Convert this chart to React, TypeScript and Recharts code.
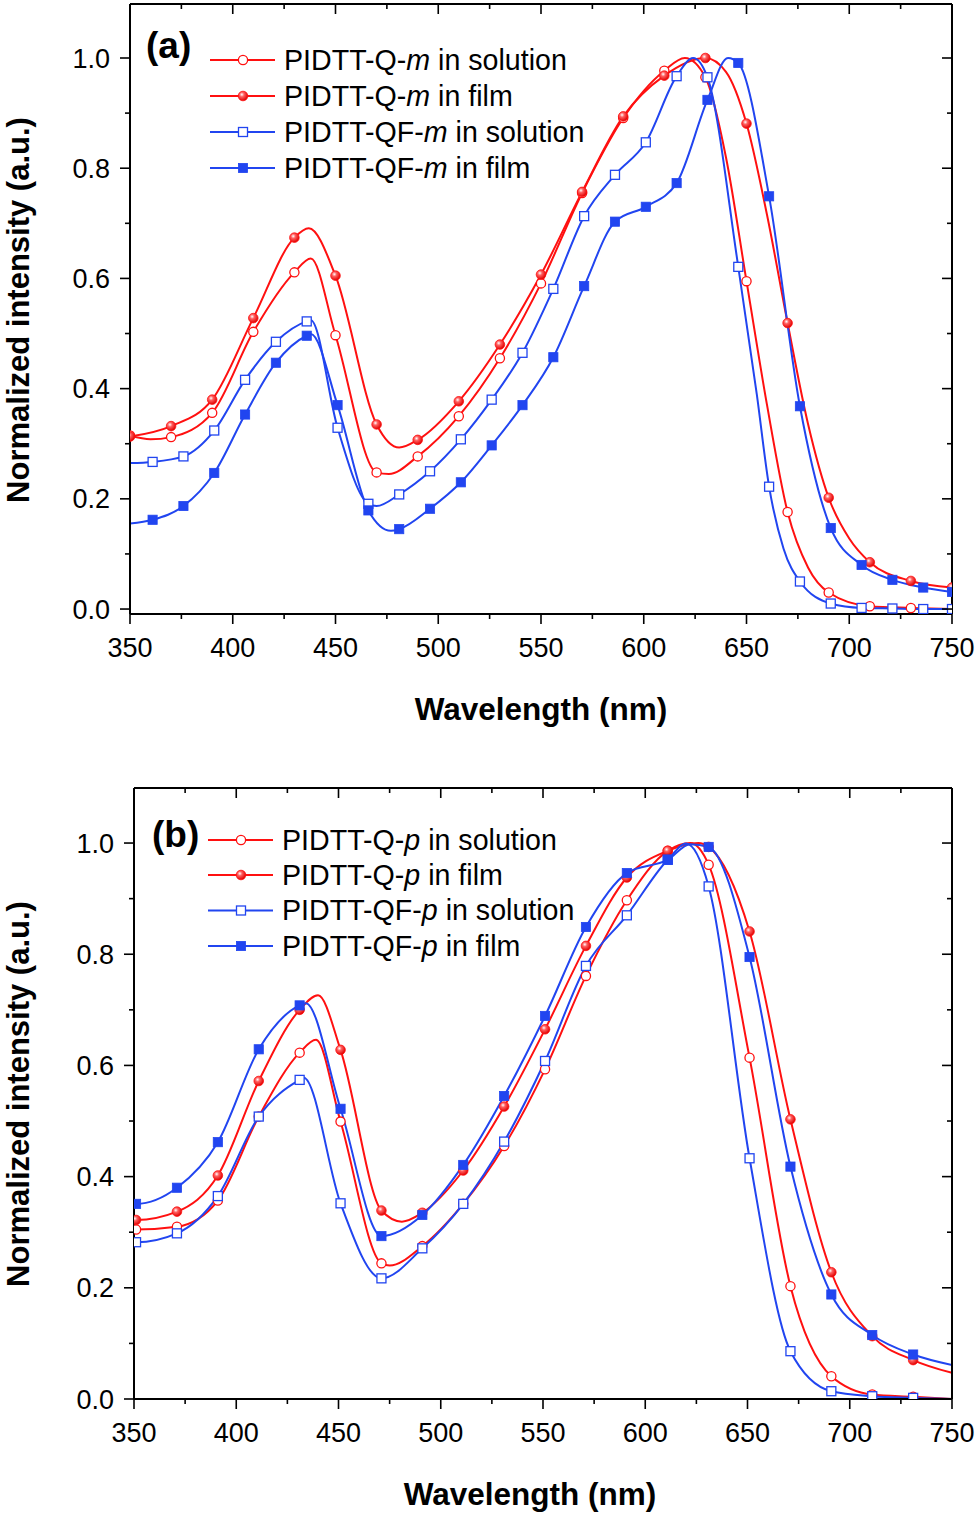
import React from 'react';
import { LineChart, Line, XAxis, YAxis } from 'recharts';

const RED = '#FF1010';
const BLUE = '#2145F0';
const FONT = '"Liberation Sans", Arial, Helvetica, sans-serif';

// ---------- Panel (a) ----------
const aCircleX = [350, 370, 390, 410, 430, 450, 470, 490, 510, 530, 550, 570, 590, 610, 630, 650, 670, 690, 710, 730, 750];
const aSquareX = [361, 376, 391, 406, 421, 436, 451, 466, 481, 496, 511, 526, 541, 556, 571, 586, 601, 616, 631, 646, 661, 676, 691, 706, 721, 736, 750];

const aQmSol = [0.315, 0.312, 0.356, 0.503, 0.611, 0.497, 0.248, 0.277, 0.350, 0.455, 0.591, 0.755, 0.891, 0.977, 0.965, 0.595, 0.176, 0.030, 0.005, 0.002, 0.0];
const aQmSolExX = [360, 438, 476, 620, 640, 660, 680];
const aQmSolExY = [0.308, 0.636, 0.245, 1.0, 0.82, 0.37, 0.075];

const aQmFilm = [0.313, 0.332, 0.380, 0.528, 0.674, 0.605, 0.335, 0.307, 0.377, 0.480, 0.607, 0.757, 0.894, 0.968, 1.0, 0.881, 0.519, 0.202, 0.085, 0.051, 0.039];
const aQmFilmExX = [437, 481, 640, 660, 680, 700];
const aQmFilmExY = [0.691, 0.293, 0.975, 0.715, 0.335, 0.128];

const aQfmSol = [0.267, 0.277, 0.324, 0.416, 0.485, 0.522, 0.329, 0.191, 0.208, 0.250, 0.308, 0.380, 0.465, 0.581, 0.713, 0.788, 0.847, 0.967, 0.965, 0.621, 0.222, 0.050, 0.010, 0.002, 0.001, 0.0, 0.0];
const aQfmSolExX = [350, 438, 470, 624, 655, 668];
const aQfmSolExY = [0.265, 0.524, 0.187, 1.0, 0.39, 0.11];

const aQfmFilm = [0.162, 0.187, 0.247, 0.353, 0.447, 0.496, 0.370, 0.179, 0.145, 0.182, 0.230, 0.297, 0.370, 0.457, 0.586, 0.703, 0.730, 0.773, 0.924, 0.991, 0.749, 0.368, 0.147, 0.080, 0.053, 0.039, 0.031];
const aQfmFilmExX = [350, 438, 477, 641];
const aQfmFilmExY = [0.155, 0.499, 0.142, 1.0];

// ---------- Panel (b) ----------
const bMarkX = [351, 371, 391, 411, 431, 451, 471, 491, 511, 531, 551, 571, 591, 611, 631, 651, 671, 691, 711, 731];

const bQpSol = [0.305, 0.310, 0.357, 0.508, 0.623, 0.499, 0.244, 0.275, 0.351, 0.455, 0.593, 0.761, 0.897, 0.986, 0.961, 0.614, 0.203, 0.041, 0.008, 0.004];
const bQpSolExX = [350, 439, 475, 622, 750];
const bQpSolExY = [0.305, 0.646, 0.240, 1.0, 0.0];

const bQpFilm = [0.322, 0.337, 0.402, 0.572, 0.700, 0.628, 0.339, 0.335, 0.411, 0.526, 0.665, 0.815, 0.938, 0.986, 0.993, 0.841, 0.503, 0.228, 0.113, 0.070];
const bQpFilmExX = [350, 440, 481, 626, 750];
const bQpFilmExY = [0.322, 0.726, 0.319, 1.0, 0.047];

const bQfpSol = [0.282, 0.298, 0.365, 0.508, 0.574, 0.352, 0.217, 0.271, 0.351, 0.463, 0.608, 0.779, 0.870, 0.970, 0.922, 0.433, 0.086, 0.014, 0.005, 0.002];
const bQfpSolExX = [350, 433, 620, 750];
const bQfpSolExY = [0.282, 0.578, 0.999, 0.0];

const bQfpFilm = [0.351, 0.380, 0.462, 0.629, 0.708, 0.522, 0.293, 0.331, 0.421, 0.545, 0.689, 0.849, 0.946, 0.970, 0.993, 0.795, 0.418, 0.188, 0.115, 0.080];
const bQfpFilmExX = [350, 434, 622, 750];
const bQfpFilmExY = [0.351, 0.712, 0.998, 0.061];

// ---------- Axes ----------
const xTicks = [350, 375, 400, 425, 450, 475, 500, 525, 550, 575, 600, 625, 650, 675, 700, 725, 750];
const yTicks = [0, 0.1, 0.2, 0.3, 0.4, 0.5, 0.6, 0.7, 0.8, 0.9, 1.0];

type Pt = { x: number; y: number; mark: boolean };
function build(mx: number[], my: number[], ex: number[], ey: number[]): Pt[] {
  const pts: Pt[] = [
    ...mx.map((x, i) => ({ x, y: my[i], mark: true })),
    ...ex.map((x, i) => ({ x, y: ey[i], mark: false })),
  ];
  return pts.sort((a, b) => a.x - b.x);
}

type MarkerKind = 'openCircle' | 'ballCircle' | 'openSquare' | 'fillSquare';

function Marker({ kind, cx, cy }: { kind: MarkerKind; cx: number; cy: number }) {
  if (kind === 'openCircle') return <circle cx={cx} cy={cy} r={4.6} fill="#fff" stroke={RED} strokeWidth={1.3} />;
  if (kind === 'ballCircle') return <circle cx={cx} cy={cy} r={4.8} fill="url(#ballGrad)" stroke={RED} strokeWidth={0.8} />;
  if (kind === 'openSquare') return <rect x={cx - 4.5} y={cy - 4.5} width={9} height={9} fill="#fff" stroke={BLUE} strokeWidth={1.3} />;
  return <rect x={cx - 4.6} y={cy - 4.6} width={9.2} height={9.2} fill={BLUE} stroke={BLUE} strokeWidth={0.8} />;
}

const dotFor = (kind: MarkerKind) => (props: any) => {
  const { cx, cy, payload, index } = props;
  if (!payload || !payload.mark || cx == null || cy == null) return <g key={`n-${index}`} />;
  return (
    <g key={`d-${index}`}>
      <Marker kind={kind} cx={cx} cy={cy} />
    </g>
  );
};

const BottomTick = (props: any) => {
  const { x, y, payload } = props;
  const v = payload.value;
  const major = v % 50 === 0;
  return (
    <g>
      <line x1={x} y1={y} x2={x} y2={y + (major ? 10 : 5)} stroke="#000" strokeWidth={1.6} />
      {major && (
        <text x={x} y={y + 43} textAnchor="middle" fontSize={27} fontFamily={FONT} fill="#000">
          {v}
        </text>
      )}
    </g>
  );
};
const TopTick = (props: any) => {
  const { x, y, payload } = props;
  const major = payload.value % 50 === 0;
  return <line x1={x} y1={y} x2={x} y2={y + (major ? 10 : 5)} stroke="#000" strokeWidth={1.6} />;
};
const LeftTick = (props: any) => {
  const { x, y, payload } = props;
  const v = payload.value;
  const major = Math.round(v * 10) % 2 === 0;
  return (
    <g>
      <line x1={x} y1={y} x2={x - (major ? 10 : 5)} y2={y} stroke="#000" strokeWidth={1.6} />
      {major && (
        <text x={x - 20} y={y + 9.5} textAnchor="end" fontSize={27} fontFamily={FONT} fill="#000">
          {v.toFixed(1)}
        </text>
      )}
    </g>
  );
};
const RightTick = (props: any) => {
  const { x, y, payload } = props;
  const major = Math.round(payload.value * 10) % 2 === 0;
  return <line x1={x} y1={y} x2={x - (major ? 10 : 5)} y2={y} stroke="#000" strokeWidth={1.6} />;
};

type SeriesDef = { data: Pt[]; color: string; kind: MarkerKind; name: string };

function Panel({ series, height, marginTop, leftW, bottomH, yDomain }: { series: SeriesDef[]; height: number; marginTop: number; leftW: number; bottomH: number; yDomain: [number, number] }) {
  const axisLine = { stroke: '#000', strokeWidth: 2 };
  return (
    <LineChart width={979} height={height} margin={{ top: marginTop - 1, right: 26, left: 0, bottom: 0 }}>
      <XAxis xAxisId="b" dataKey="x" type="number" domain={[350, 750]} ticks={xTicks} interval={0} allowDataOverflow orientation="bottom" height={bottomH} tickSize={0} tickMargin={0} tickLine={false} axisLine={axisLine} tick={<BottomTick />} />
      <XAxis xAxisId="t" dataKey="x" type="number" domain={[350, 750]} ticks={xTicks} interval={0} allowDataOverflow orientation="top" height={1} tickSize={0} tickMargin={0} tickLine={false} axisLine={axisLine} tick={<TopTick />} />
      <YAxis yAxisId="l" type="number" domain={yDomain} ticks={yTicks} interval={0} allowDataOverflow orientation="left" width={leftW} tickSize={0} tickMargin={0} tickLine={false} axisLine={axisLine} tick={<LeftTick />} />
      <YAxis yAxisId="r" type="number" domain={yDomain} ticks={yTicks} interval={0} allowDataOverflow orientation="right" width={1} tickSize={0} tickMargin={0} tickLine={false} axisLine={axisLine} tick={<RightTick />} />
      {series.map((s) => (
        <Line key={s.name} xAxisId="b" yAxisId="l" data={s.data} dataKey="y" name={s.name} type="monotone" stroke={s.color} strokeWidth={2} dot={dotFor(s.kind)} activeDot={false} isAnimationActive={false} />
      ))}
      <Line xAxisId="t" yAxisId="r" data={series[0].data} dataKey="y" stroke="none" strokeWidth={0} dot={false} activeDot={false} isAnimationActive={false} legendType="none" />
    </LineChart>
  );
}

const seriesA: SeriesDef[] = [
  { name: 'qmsol', color: RED, kind: 'openCircle', data: build(aCircleX, aQmSol, aQmSolExX, aQmSolExY) },
  { name: 'qmfilm', color: RED, kind: 'ballCircle', data: build(aCircleX, aQmFilm, aQmFilmExX, aQmFilmExY) },
  { name: 'qfmsol', color: BLUE, kind: 'openSquare', data: build(aSquareX, aQfmSol, aQfmSolExX, aQfmSolExY) },
  { name: 'qfmfilm', color: BLUE, kind: 'fillSquare', data: build(aSquareX, aQfmFilm, aQfmFilmExX, aQfmFilmExY) },
];
const seriesB: SeriesDef[] = [
  { name: 'qpsol', color: RED, kind: 'openCircle', data: build(bMarkX, bQpSol, bQpSolExX, bQpSolExY) },
  { name: 'qpfilm', color: RED, kind: 'ballCircle', data: build(bMarkX, bQpFilm, bQpFilmExX, bQpFilmExY) },
  { name: 'qfpsol', color: BLUE, kind: 'openSquare', data: build(bMarkX, bQfpSol, bQfpSolExX, bQfpSolExY) },
  { name: 'qfpfilm', color: BLUE, kind: 'fillSquare', data: build(bMarkX, bQfpFilm, bQfpFilmExX, bQfpFilmExY) },
];

const legendA = [
  { pre: 'PIDTT-Q-', it: 'm', post: ' in solution', color: RED, kind: 'openCircle' as MarkerKind },
  { pre: 'PIDTT-Q-', it: 'm', post: ' in film', color: RED, kind: 'ballCircle' as MarkerKind },
  { pre: 'PIDTT-QF-', it: 'm', post: ' in solution', color: BLUE, kind: 'openSquare' as MarkerKind },
  { pre: 'PIDTT-QF-', it: 'm', post: ' in film', color: BLUE, kind: 'fillSquare' as MarkerKind },
];
const legendB = [
  { pre: 'PIDTT-Q-', it: 'p', post: ' in solution', color: RED, kind: 'openCircle' as MarkerKind },
  { pre: 'PIDTT-Q-', it: 'p', post: ' in film', color: RED, kind: 'ballCircle' as MarkerKind },
  { pre: 'PIDTT-QF-', it: 'p', post: ' in solution', color: BLUE, kind: 'openSquare' as MarkerKind },
  { pre: 'PIDTT-QF-', it: 'p', post: ' in film', color: BLUE, kind: 'fillSquare' as MarkerKind },
];

function LegendBlock({ items, x1, x2, xm, xt, rows }: { items: typeof legendA; x1: number; x2: number; xm: number; xt: number; rows: number[] }) {
  return (
    <g>
      {items.map((it, i) => (
        <g key={i}>
          <line x1={x1} y1={rows[i]} x2={x2} y2={rows[i]} stroke={it.color} strokeWidth={2} />
          <Marker kind={it.kind} cx={xm} cy={rows[i]} />
          <text x={xt} y={rows[i] + 9.8} fontSize={28.6} fontFamily={FONT} fill="#000">
            {it.pre}
            <tspan fontStyle="italic">{it.it}</tspan>
            {it.post}
          </text>
        </g>
      ))}
    </g>
  );
}

export default function App() {
  return (
    <div style={{ position: 'absolute', left: 0, top: 0, width: 979, height: 1515, background: '#fff' }}>
      <svg width={0} height={0} style={{ position: 'absolute' }}>
        <defs>
          <radialGradient id="ballGrad" cx="0.38" cy="0.35" r="0.65">
            <stop offset="0" stopColor="#ffffff" />
            <stop offset="0.35" stopColor="#ff6060" />
            <stop offset="1" stopColor="#e00000" />
          </radialGradient>
        </defs>
      </svg>
      <div style={{ position: 'absolute', left: 0, top: 0 }}>
        <Panel series={seriesA} height={757} marginTop={4} leftW={130} bottomH={143} yDomain={[-0.009, 1.098]} />
      </div>
      <div style={{ position: 'absolute', left: 0, top: 757 }}>
        <Panel series={seriesB} height={758} marginTop={31} leftW={134} bottomH={116} yDomain={[0, 1.099]} />
      </div>
      <svg width={979} height={1515} style={{ position: 'absolute', left: 0, top: 0, pointerEvents: 'none' }}>
        <text x={146} y={58} fontSize={37} fontWeight="bold" fontFamily={FONT} fill="#000">(a)</text>
        <text x={152} y={847} fontSize={37} fontWeight="bold" fontFamily={FONT} fill="#000">(b)</text>
        <LegendBlock items={legendA} x1={210} x2={275} xm={243} xt={284} rows={[60, 96, 132, 168]} />
        <LegendBlock items={legendB} x1={208} x2={273} xm={241} xt={282} rows={[840, 875, 910.5, 946]} />
        <text x={541} y={720} textAnchor="middle" fontSize={31.5} fontWeight="bold" fontFamily={FONT} fill="#000">Wavelength (nm)</text>
        <text x={530} y={1505} textAnchor="middle" fontSize={31.5} fontWeight="bold" fontFamily={FONT} fill="#000">Wavelength (nm)</text>
        <text transform="translate(29,310) rotate(-90)" textAnchor="middle" fontSize={31} fontWeight="bold" fontFamily={FONT} fill="#000">Normalized intensity (a.u.)</text>
        <text transform="translate(29,1094) rotate(-90)" textAnchor="middle" fontSize={31} fontWeight="bold" fontFamily={FONT} fill="#000">Normalized intensity (a.u.)</text>
      </svg>
    </div>
  );
}
